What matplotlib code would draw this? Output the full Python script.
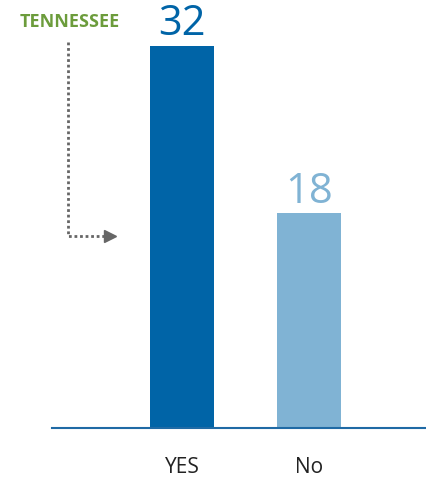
import matplotlib.pyplot as plt
from matplotlib.lines import Line2D

categories = ["YES", "No"]
values = [32, 18]
colors = ["#0064a7", "#80b3d4"]
label = "TENNESSEE"


def main():
    plt.rcParams["font.family"] = ["Open Sans", "DejaVu Sans"]
    fig = plt.figure(figsize=(4.27, 4.78), dpi=100)
    W, H = 427, 478
    ax = fig.add_axes([52 / W, 50 / H, 1 - 52 / W, 428 / H])

    x = range(len(categories))
    ax.bar(x, values, width=0.504, color=colors)
    ax.set_xlim(-1.024, 1.929)
    ax.set_ylim(0, 428 / (382 / 32))

    for xi, v, c in zip(x, values, colors):
        ax.text(xi, v + 0.05, str(v), ha="center", va="bottom",
                fontsize=30, color=c)

    for s in ["top", "right", "left"]:
        ax.spines[s].set_visible(False)
    ax.spines["bottom"].set_color("#1f6aa5")
    ax.spines["bottom"].set_linewidth(1.5)
    ax.set_yticks([])
    ax.set_xticks(list(x))
    ax.set_xticklabels(categories, fontsize=15, color="#222222")
    ax.tick_params(axis="x", length=0, pad=21)

    # state callout with dotted elbow arrow
    fig.text(70 / W, 1 - 22 / H, label, ha="center", va="center",
             fontsize=13, fontweight="bold", color="#6c9c3c")
    fig.add_artist(Line2D([68 / W, 68 / W, 106 / W],
                          [1 - 42 / H, 1 - 236 / H, 1 - 236 / H],
                          transform=fig.transFigure, color="#666666",
                          linestyle=(0, (1, 1)), linewidth=2))
    fig.add_artist(Line2D([110 / W], [1 - 236 / H], transform=fig.transFigure,
                          marker=">", markersize=9, color="#666666",
                          linestyle="none"))

    fig.savefig("out.png", dpi=100)


if __name__ == "__main__":
    main()
